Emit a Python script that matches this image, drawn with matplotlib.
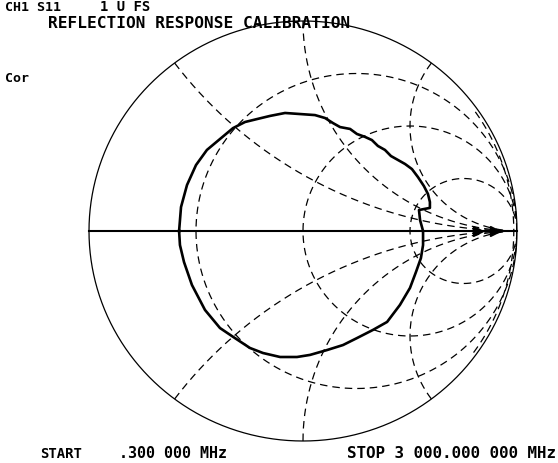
import numpy as np
import matplotlib
matplotlib.use("Agg")
import matplotlib.pyplot as plt

W, H = 558, 463

# Smith-chart grid values (normalised resistance circles / reactance arcs)
r_circles = [1 / 3, 1.0, 3.0]
x_arcs = [0.5, 1.0, 2.0, -0.5, -1.0, -2.0]

# Measured trace (reflection coefficient, real / imaginary)
trace_re = [-0.579, -0.570, -0.542, -0.500, -0.449, -0.388, -0.327, -0.271, -0.215,
            -0.154, -0.084, -0.014, 0.056, 0.103, 0.140, 0.173, 0.220, 0.252, 0.290,
            0.322, 0.350, 0.383, 0.411, 0.444, 0.477, 0.509, 0.537, 0.565, 0.584,
            0.593, 0.593, 0.542, 0.547, 0.561, 0.561, 0.551, 0.528, 0.500, 0.453,
            0.393, 0.327, 0.252, 0.187, 0.112, 0.033, -0.028, -0.107, -0.187, -0.248,
            -0.318, -0.388, -0.458, -0.519, -0.556, -0.575, -0.579]
trace_im = [0.000, 0.114, 0.219, 0.314, 0.386, 0.438, 0.490, 0.519, 0.533,
            0.548, 0.562, 0.557, 0.552, 0.538, 0.514, 0.495, 0.486, 0.462, 0.448,
            0.433, 0.405, 0.386, 0.357, 0.338, 0.319, 0.295, 0.257, 0.214, 0.176,
            0.138, 0.110, 0.100, 0.052, 0.000, -0.067, -0.129, -0.195, -0.271, -0.352,
            -0.433, -0.471, -0.510, -0.543, -0.567, -0.590, -0.600, -0.600, -0.581, -0.557,
            -0.510, -0.462, -0.376, -0.257, -0.148, -0.067, 0.000]

# Markers on the real axis
marker_re = [0.818, 0.897]
marker_im = [0.0, 0.0]

header_left = "CH1 S11"
header_mid = "1 U FS"
title = "REFLECTION RESPONSE CALIBRATION"
side_label = "Cor"
start_label = "START"
start_value = ".300 000 MHz"
stop_label = "STOP 3 000.000 000 MHz"

fig = plt.figure(figsize=(W / 100, H / 100), dpi=100)
fig.patch.set_facecolor("white")
ax = fig.add_axes([89 / W, (H - 441) / H, 428 / W, 420 / H])
ax.set_xlim(-1, 1)
ax.set_ylim(-1, 1)
ax.axis("off")

t = np.linspace(0, 2 * np.pi, 721)
ax.plot(np.cos(t), np.sin(t), color="k", lw=0.9, clip_on=False)
ax.plot([-1, 1], [0, 0], color="k", lw=1.5, clip_on=False)

dash = (0, (6, 4))
# dashed r = 0 grid circle, drawn just inside the rim on the right
ta = np.linspace(-np.radians(36), np.radians(36), 120)
ax.plot(0.985 * np.cos(ta), 0.985 * np.sin(ta), color="k", lw=0.9, ls=dash)

for r in r_circles:
    c = r / (1 + r)
    rad = 1 / (1 + r)
    ax.plot(c + rad * np.cos(t), rad * np.sin(t), color="k", lw=0.9, ls=dash)

rr = np.tan(np.linspace(0, np.pi / 2 - 1e-3, 600))
for x in x_arcs:
    z = rr + 1j * x
    g = (z - 1) / (z + 1)
    ax.plot(g.real, g.imag, color="k", lw=0.9, ls=dash)

ax.plot(trace_re, trace_im, color="k", lw=1.9, solid_joinstyle="round")
ax.plot(marker_re, marker_im, ls="none", marker=">", ms=7, color="k")

fam = ["DejaVu Sans Mono"]


def put(x, y, s, size, ha="left"):
    fig.text(x / W, 1 - y / H, s, fontsize=size, family=fam, weight="bold",
             ha=ha, va="baseline")


put(5, 11, header_left, 9.5)
put(100, 11, header_mid, 10)
put(48, 28, title, 11.6)
put(5, 82, side_label, 9.5)
put(40, 458, start_label, 10)
put(119, 458, start_value, 10.8)
put(556, 458, stop_label, 11.4, ha="right")

fig.savefig("out.png", dpi=100, facecolor="white")
